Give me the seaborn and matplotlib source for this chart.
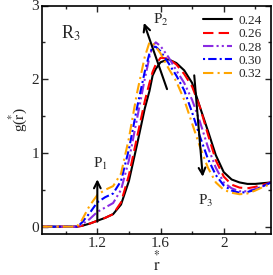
import numpy as np
import seaborn as sns
import matplotlib.pyplot as plt
import pandas as pd
from matplotlib.ticker import MultipleLocator

# r* grid and g(r*)
r = [0.85, 1.0, 1.07, 1.1, 1.15, 1.2, 1.25, 1.3, 1.35, 1.4, 1.45, 1.5, 1.53, 1.55, 1.57,
     1.6, 1.65, 1.7, 1.75, 1.8, 1.85, 1.9, 1.95, 2.0, 2.05, 2.1, 2.15, 2.2, 2.25, 2.3]
g_024 = [0, 0, 0, 0.01, 0.04, 0.08, 0.12, 0.17, 0.3, 0.62, 1.1, 1.6, 1.84, 2.05, 2.14,
         2.23, 2.27, 2.22, 2.12, 1.95, 1.62, 1.3, 0.97, 0.74, 0.64, 0.6, 0.58, 0.58, 0.59, 0.6]
g_026 = [0, 0, 0, 0.01, 0.04, 0.08, 0.12, 0.17, 0.33, 0.7, 1.2, 1.7, 1.95, 2.1, 2.2,
         2.29, 2.28, 2.2, 2.07, 1.9, 1.62, 1.25, 0.9, 0.68, 0.57, 0.53, 0.52, 0.54, 0.57, 0.6]
g_028 = [0, 0, 0, 0.03, 0.1, 0.2, 0.26, 0.32, 0.5, 0.9, 1.45, 2.0, 2.3, 2.45, 2.5,
         2.45, 2.3, 2.12, 1.95, 1.72, 1.42, 1.08, 0.8, 0.6, 0.52, 0.48, 0.48, 0.51, 0.55, 0.6]
g_030 = [0, 0, 0, 0.05, 0.18, 0.33, 0.4, 0.45, 0.62, 1.05, 1.6, 2.1, 2.35, 2.43, 2.44,
         2.38, 2.22, 2.05, 1.85, 1.55, 1.22, 0.92, 0.7, 0.56, 0.49, 0.46, 0.47, 0.5, 0.55, 0.6]
g_032 = [0, 0, 0, 0.08, 0.28, 0.43, 0.5, 0.55, 0.72, 1.2, 1.8, 2.3, 2.5, 2.49, 2.44,
         2.35, 2.15, 1.97, 1.72, 1.4, 1.08, 0.8, 0.6, 0.5, 0.46, 0.44, 0.45, 0.49, 0.54, 0.58]
labels = ['0.24', '0.26', '0.28', '0.30', '0.32']

colors = ['black', 'red', '#8a2be2', 'blue', 'orange']
dash_styles = ['', (5, 2.5), (5, 1.5, 1, 1.5, 1, 1.5), (1, 1.5, 4, 1.5), (5, 2, 1, 2)]

df = pd.concat([pd.DataFrame({'r': r, 'g': g, 'rho': lab})
                for g, lab in zip([g_024, g_026, g_028, g_030, g_032], labels)])

sns.set_style('ticks')
plt.rcParams['font.family'] = ['Liberation Serif', 'DejaVu Serif']
plt.rcParams['mathtext.fontset'] = 'stix'

fig = plt.figure(figsize=(2.73, 2.75), dpi=100)
ax = fig.add_axes([0.154, 0.149, 0.839, 0.831])
sns.lineplot(data=df, x='r', y='g', hue='rho', style='rho',
             palette=dict(zip(labels, colors)), dashes=dict(zip(labels, dash_styles)),
             linewidth=1.5, sort=False, ax=ax)

ax.set_xlim(0.85, 2.3)
ax.set_ylim(-0.1, 3)
ax.xaxis.set_minor_locator(MultipleLocator(0.2))
ax.yaxis.set_major_locator(MultipleLocator(1))
ax.yaxis.set_minor_locator(MultipleLocator(0.5))
ax.set_xticks([1.2, 1.6, 2.0])
ax.set_xticklabels(['1.2', '1.6', '2'])
ax.tick_params(which='both', direction='in', top=True, right=True, labelsize=11, width=1)
ax.tick_params(which='major', length=4, pad=2)
ax.tick_params(which='minor', length=2.5)
for _, s in ax.spines.items():
    s.set_color('black')
    s.set_linewidth(1.2)

ax.set_xlabel(r'$\overset{*}{\mathrm{r}}$', fontsize=12, labelpad=0)
ax.set_ylabel(r'g($\overset{*}{\mathrm{r}}$)', fontsize=11, labelpad=1)

ax.legend(frameon=False, fontsize=9.5, loc='upper right', handlelength=2.2,
          handletextpad=0.5, labelspacing=0.08, borderaxespad=0.3)

ax.text(0.97, 2.55, r'R$_3$', fontsize=13)
ax.annotate('', xy=(1.2, 0.68), xytext=(1.2, 0.03),
            arrowprops=dict(arrowstyle='->', color='black', lw=1.5, mutation_scale=12))
ax.text(1.17, 0.8, r'P$_1$', fontsize=11)
ax.annotate('', xy=(1.489, 2.8), xytext=(1.647, 1.83),
            arrowprops=dict(arrowstyle='->', color='black', lw=1.5, mutation_scale=12))
ax.text(1.55, 2.75, r'P$_2$', fontsize=11)
ax.annotate('', xy=(1.869, 0.64), xytext=(1.812, 2.09),
            arrowprops=dict(arrowstyle='->', color='black', lw=1.5, mutation_scale=12))
ax.text(1.84, 0.3, r'P$_3$', fontsize=11)

fig.savefig('out.png', dpi=100)
